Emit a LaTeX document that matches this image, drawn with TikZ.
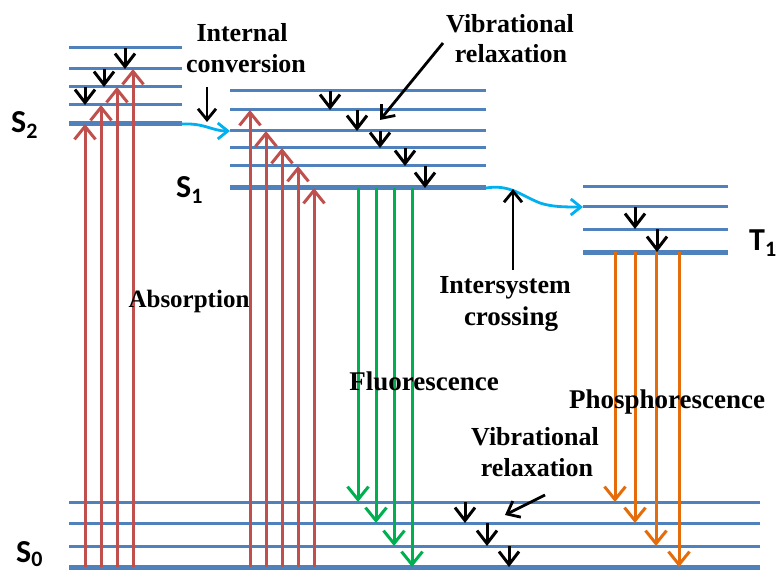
\documentclass[tikz,border=0pt]{standalone}
\usepackage{fontspec}
\setmainfont{Liberation Serif}
\newfontfamily\statefont{Carlito}
\usetikzlibrary{arrows.meta}
\definecolor{lvl}{RGB}{79,129,189}
\definecolor{absred}{RGB}{192,80,77}
\definecolor{flgreen}{RGB}{0,176,80}
\definecolor{phorange}{RGB}{228,108,10}
\definecolor{iccyan}{RGB}{0,176,240}
\tikzset{
  level/.style={draw=lvl, line width=3pt},
  ground/.style={draw=lvl, line width=5pt},
  barb/.style={-{Straight Barb[length=13pt,width=21pt]}},
  absarrow/.style={barb, draw=absred, line width=3pt},
  flarrow/.style={barb, draw=flgreen, line width=3pt},
  pharrow/.style={barb, draw=phorange, line width=3pt},
  vibarrow/.style={-{Straight Barb[length=13pt,width=20pt]}, draw=black, line width=3pt},
  ptrarrow/.style={-{Straight Barb[length=11pt,width=18pt]}, draw=black, line width=2.8pt},
  cyanarrow/.style={-{Straight Barb[length=10pt,width=16pt]}, draw=iccyan, line width=2.8pt},
  lab/.style={font=\fontsize{26}{26}\selectfont\bfseries, anchor=base, inner sep=0pt},
  widelab/.style={lab, font=\fontsize{27}{27}\selectfont\bfseries},
  statelab/.style={font=\statefont\bfseries\fontsize{32}{32}\selectfont, anchor=base west, inner sep=0pt}
}
\begin{document}
\begin{tikzpicture}[x=1pt,y=-1pt]
\useasboundingbox (0,0) rectangle (776,572);

% ---- levels ----
\foreach \n/\y in {0/124,1/105,2/87,3/69,4/48}{
  \coordinate (S2v\n) at (69,\y);
  \coordinate (S2e\n) at (182,\y);
}
\foreach \n/\y in {0/188,1/166,2/148,3/131,4/110,5/91}{
  \coordinate (S1v\n) at (230,\y);
  \coordinate (S1e\n) at (486,\y);
}
\foreach \n/\y in {0/252,1/229,2/207,3/187}{
  \coordinate (T1v\n) at (583,\y);
  \coordinate (T1e\n) at (728,\y);
}
\foreach \n/\y in {0/567,1/546,2/523,3/502}{
  \coordinate (S0v\n) at (69,\y);
  \coordinate (S0e\n) at (760,\y);
}
\draw[ground] (S2v0) -- (S2e0);
\foreach \n in {1,...,4} \draw[level] (S2v\n) -- (S2e\n);
\draw[ground] (S1v0) -- (S1e0);
\foreach \n in {1,...,5} \draw[level] (S1v\n) -- (S1e\n);
\draw[ground] (T1v0) -- (T1e0);
\foreach \n in {1,...,3} \draw[level] (T1v\n) -- (T1e\n);
\draw[ground] (S0v0) -- (S0e0);
\foreach \n in {1,...,3} \draw[level] (S0v\n) -- (S0e\n);

% ---- absorption ----
\draw[absarrow] (85,0 |- S0v0) -- (85,0 |- S2v0);
\draw[absarrow] (101,0 |- S0v0) -- (101,0 |- S2v1);
\draw[absarrow] (117,0 |- S0v0) -- (117,0 |- S2v2);
\draw[absarrow] (133,0 |- S0v0) -- (133,0 |- S2v3);
\draw[absarrow] (250,0 |- S0v0) -- (250,0 |- S1v4);
\draw[absarrow] (266,0 |- S0v0) -- (266,0 |- S1v3);
\draw[absarrow] (282,0 |- S0v0) -- (282,0 |- S1v2);
\draw[absarrow] (298,0 |- S0v0) -- (298,0 |- S1v1);
\draw[absarrow] (314,0 |- S0v0) -- (314,0 |- S1v0);

% ---- fluorescence ----
\draw[flarrow] (358,0 |- S1v0) -- (358,0 |- S0v3);
\draw[flarrow] (376,0 |- S1v0) -- (376,0 |- S0v2);
\draw[flarrow] (394,0 |- S1v0) -- (394,0 |- S0v1);
\draw[flarrow] (412,0 |- S1v0) -- (412,0 |- S0v0);

% ---- phosphorescence ----
\draw[pharrow] (615,0 |- T1v0) -- (615,0 |- S0v3);
\draw[pharrow] (635,0 |- T1v0) -- (635,0 |- S0v2);
\draw[pharrow] (656,0 |- T1v0) -- (656,0 |- S0v1);
\draw[pharrow] (679,0 |- T1v0) -- (679,0 |- S0v0);

% ---- vibrational relaxation ----
\draw[vibarrow] (85,0 |- S2v2) -- (85,0 |- S2v1);
\draw[vibarrow] (104,0 |- S2v3) -- (104,0 |- S2v2);
\draw[vibarrow] (125,0 |- S2v4) -- (125,0 |- S2v3);
\draw[vibarrow] (330,0 |- S1v5) -- (330,0 |- S1v4);
\draw[vibarrow] (357,0 |- S1v4) -- (357,0 |- S1v3);
\draw[vibarrow] (380,0 |- S1v3) -- (380,0 |- S1v2);
\draw[vibarrow] (405,0 |- S1v2) -- (405,0 |- S1v1);
\draw[vibarrow] (425,0 |- S1v1) -- (425,0 |- S1v0);
\draw[vibarrow] (635,0 |- T1v2) -- (635,0 |- T1v1);
\draw[vibarrow] (657,0 |- T1v1) -- (657,0 |- T1v0);
\draw[vibarrow] (465,0 |- S0v3) -- (465,0 |- S0v2);
\draw[vibarrow] (487,0 |- S0v2) -- (487,0 |- S0v1);
\draw[vibarrow] (509,0 |- S0v1) -- (509,0 |- S0v0);

% ---- internal conversion & ISC curves ----
\draw[cyanarrow] (S2e0) .. controls (205,123) and (212,131) .. (S1v3);
\draw[cyanarrow] (S1e0) .. controls (510,184) and (522,196) .. (540,203)
   .. controls (552,207) and (565,207) .. (T1v2);

% ---- labels ----
\node[lab] (ic1) at (242,42) {Internal};
\node[lab] (ic2) at (246,73) {conversion};
\coordinate (icA) at (207,87);
\coordinate (icB) at (207,122);
\draw[ptrarrow] (icA) -- (icB);

\node[lab] (vr1) at (510,33) {Vibrational};
\node[lab] (vr2) at (511,63) {relaxation};
\coordinate (vrA) at (443,43);
\coordinate (vrB) at (380,120);
\draw[ptrarrow] (vrA) -- (vrB);

\node[lab] (isc1) at (505,293) {Intersystem};
\node[widelab] (isc2) at (511,325) {crossing};
\coordinate (iscA) at (513,270);
\coordinate (iscB) at (513,189);
\draw[ptrarrow] (iscA) -- (iscB);

\node[lab, font=\fontsize{25}{25}\selectfont\bfseries] (absl) at (189,307) {Absorption};
\node[widelab] (fll) at (424,390) {Fluorescence};
\node[widelab] (phl) at (667,408) {Phosphorescence};

\node[lab] (vb1) at (535,445) {Vibrational};
\node[lab] (vb2) at (537,476) {relaxation};
\coordinate (vbA) at (545,495);
\coordinate (vbB) at (505,515);
\draw[ptrarrow] (vbA) -- (vbB);

\node[statelab] (s2l) at (11,133) {S\raisebox{-6pt}{\fontsize{22}{22}\selectfont 2}};
\node[statelab] (s1l) at (176,197) {S\raisebox{-6pt}{\fontsize{22}{22}\selectfont 1}};
\node[statelab] (t1l) at (749,250) {T\raisebox{-6pt}{\fontsize{22}{22}\selectfont 1}};
\node[statelab] (s0l) at (16,562) {S\raisebox{-4pt}{\fontsize{22}{22}\selectfont 0}};
\end{tikzpicture}
\end{document}
